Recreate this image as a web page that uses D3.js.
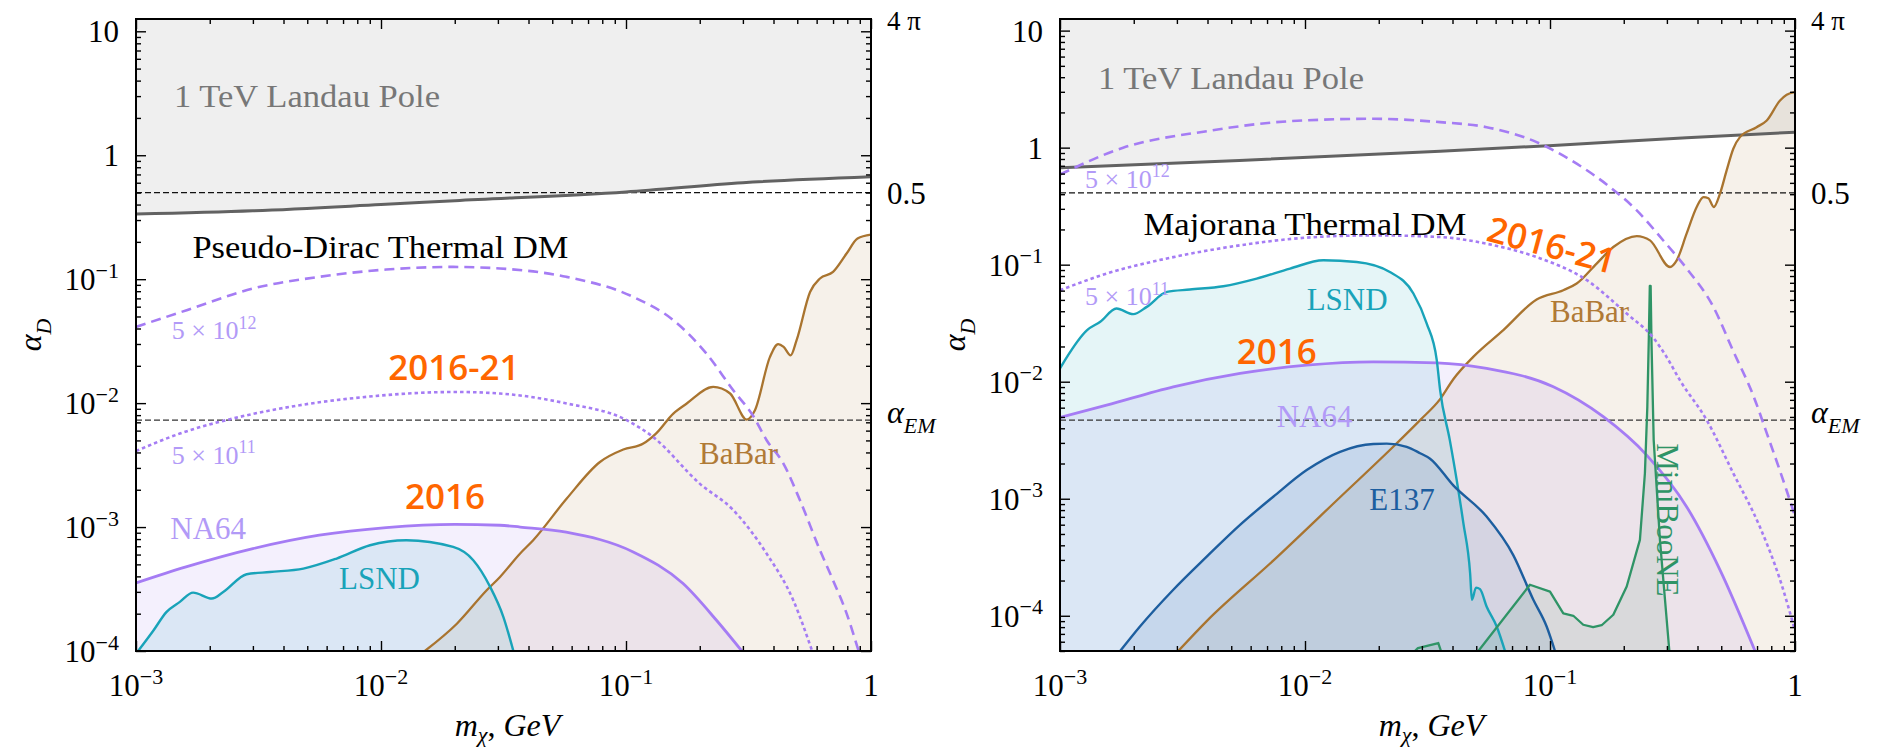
<!DOCTYPE html>
<html>
<head>
<meta charset="utf-8">
<script src="https://cdn.jsdelivr.net/npm/d3@7"></script>
<style>
  html, body { margin: 0; padding: 0; background: #fff; }
  svg { display: block; }
</style>
</head>
<body>
<svg id="fig" width="1880" height="753"></svg>
<script>
// ---------------- shared axis values ----------------
const massDomain = [1e-3, 1];
const alphaTop = 4 * Math.PI;
const xTickExps = [-3, -2, -1, 0];
const yTickExps = [-4, -3, -2, -1, 0, 1];

// ---------------- Pseudo-Dirac panel: [m_chi (GeV), alpha_D] ----------------
const pdLandau = [[1e-3, 0.335], [3e-3, 0.356], [1e-2, 0.40], [2e-2, 0.43], [0.1, 0.506], [0.3, 0.60], [1, 0.67]];
const pdNA64 = [[1e-3, 3.54e-4], [1.6e-3, 4.77e-4], [3e-3, 6.7e-4], [5.6e-3, 8.6e-4], [1.05e-2, 9.9e-4],
  [2e-2, 1.05e-3], [3.06e-2, 1.034e-3], [3.7e-2, 1.0e-3], [5.7e-2, 9.1e-4], [0.107, 6.3e-4],
  [0.171, 3.5e-4], [0.234, 1.77e-4], [0.297, 1e-4]];
const pdLSND = [[1.02e-3, 1e-4], [1.18e-3, 1.47e-4], [1.33e-3, 2.06e-4], [1.51e-3, 2.49e-4], [1.71e-3, 2.96e-4],
  [2.04e-3, 2.65e-4], [2.27e-3, 2.99e-4], [2.83e-3, 4.16e-4], [3.52e-3, 4.34e-4], [4.82e-3, 4.62e-4],
  [6.59e-3, 5.57e-4], [9.02e-3, 7.13e-4], [1.27e-2, 7.83e-4], [1.97e-2, 6.91e-4], [2.38e-2, 5.4e-4],
  [2.79e-2, 3.29e-4], [3.16e-2, 1.88e-4], [3.47e-2, 1e-4]];
const pdBaBar = [[0.0151, 1e-4], [0.0204, 1.66e-4], [0.027, 3.09e-4], [0.0306, 3.96e-4], [0.0369, 6.1e-4],
  [0.0418, 7.83e-4], [0.0573, 1.7e-3], [0.0783, 3.35e-3], [0.0975, 4.22e-3], [0.1177, 4.72e-3],
  [0.1325, 5.68e-3], [0.156, 8.24e-3], [0.177, 9.93e-3], [0.227, 1.352e-2], [0.266, 1.196e-2],
  [0.311, 7.37e-3], [0.336, 8.77e-3], [0.387, 2.36e-2], [0.418, 2.99e-2], [0.44, 2.84e-2],
  [0.47, 2.43e-2], [0.497, 3.22e-2], [0.564, 7.89e-2], [0.619, 0.1013], [0.7, 0.1145],
  [0.795, 0.161], [0.881, 0.213], [1, 0.229]];
const pdTarget5e12 = [[1e-3, 0.0412], [1.61e-3, 0.0562], [3e-3, 0.0841], [5.6e-3, 0.1045], [1.05e-2, 0.1196],
  [1.97e-2, 0.1256], [3.06e-2, 0.122], [5.7e-2, 0.1045], [0.107, 0.072], [0.156, 0.0467],
  [0.213, 0.0251], [0.274, 0.0127], [0.331, 7.84e-3], [0.375, 5.02e-3], [0.4385, 3.27e-3],
  [0.513, 1.645e-3], [0.619, 6.5e-4], [0.70, 3.72e-4], [0.795, 2.01e-4], [0.89, 1e-4]];
const pdTarget5e11 = [[1e-3, 4.11e-3], [1.51e-3, 5.68e-3], [2.65e-3, 7.74e-3], [4.66e-3, 9.62e-3],
  [8.19e-3, 1.11e-2], [2.02e-2, 1.23e-2], [3.06e-2, 1.195e-2], [5.73e-2, 9.93e-3], [0.1007, 7.28e-3],
  [0.129, 5.33e-3], [0.2, 2.24e-3], [0.274, 1.37e-3], [0.375, 6.1e-4], [0.482, 2.56e-4], [0.575, 1e-4]];
const pdRefLevels = [0.5, 1 / 137];

// ---------------- Majorana panel: [m_chi (GeV), alpha_D] ----------------
const mjLandau = [[1e-3, 0.674], [5.4e-3, 0.778], [3.56e-2, 0.933], [0.103, 1.044], [0.361, 1.214], [1, 1.356]];
const mjNA64 = [[1e-3, 4.96e-3], [1.55e-3, 6.31e-3], [2.9e-3, 9.05e-3], [5.43e-3, 1.178e-2], [1.016e-2, 1.386e-2],
  [1.9e-2, 1.48e-2], [3.45e-2, 1.45e-2], [5.51e-2, 1.3e-2], [0.1032, 9.05e-3], [0.165, 5.02e-3],
  [0.248, 2.36e-3], [0.361, 8.56e-4], [0.494, 2.47e-4], [0.687, 5e-5]];
const mjLSND = [[1e-3, 0.013], [1.048e-3, 0.0153], [1.29e-3, 0.0276], [1.46e-3, 0.0325], [1.7e-3, 0.0422],
  [1.99e-3, 0.0378], [2.26e-3, 0.0436], [2.73e-3, 0.0585], [3.39e-3, 0.0613], [4.64e-3, 0.0654],
  [6.35e-3, 0.076], [8.69e-3, 0.0926], [1.188e-2, 0.109], [1.626e-2, 0.1055], [2.22e-2, 0.0866],
  [2.77e-2, 0.0567], [3.14e-2, 0.0314], [3.45e-2, 0.0153], [3.56e-2, 8.48e-3], [3.9e-2, 3.17e-3],
  [4.16e-2, 1.45e-3], [4.43e-2, 6.18e-4], [4.72e-2, 2.31e-4], [4.8e-2, 1.37e-4], [4.99e-2, 1.74e-4],
  [5.18e-2, 1.69e-4], [5.51e-2, 1.2e-4], [6.06e-2, 8.1e-5], [6.55e-2, 5e-5]];
const mjE137 = [[1.76e-3, 5e-5], [2.12e-3, 8.1e-5], [2.9e-3, 1.67e-4], [3.97e-3, 3.2e-4], [5.43e-3, 5.98e-4],
  [7.42e-3, 1.04e-3], [1.016e-2, 1.76e-3], [1.39e-2, 2.52e-3], [1.9e-2, 2.94e-3], [2.156e-2, 2.96e-3],
  [2.6e-2, 2.78e-3], [2.95e-2, 2.45e-3], [3.24e-2, 2.2e-3], [4.03e-2, 1.3e-3], [5.51e-2, 7.04e-4],
  [7.08e-2, 3.3e-4], [8.55e-2, 1.37e-4], [9.69e-2, 8.1e-5], [0.1048, 5e-5]];
const mjBaBar = [[3.04e-3, 5e-5], [3.97e-3, 9e-5], [7.42e-3, 2.96e-4], [1.39e-2, 1.03e-3], [2.33e-2, 2.88e-3],
  [2.95e-2, 4.7e-3], [3.56e-2, 7.1e-3], [4.03e-2, 1.05e-2], [4.86e-2, 1.63e-2], [6.45e-2, 2.76e-2],
  [8.82e-2, 5.04e-2], [0.1133, 6.05e-2], [0.1285, 6.9e-2], [0.155, 0.1022], [0.1813, 0.1416],
  [0.226, 0.1757], [0.256, 0.1613], [0.309, 0.0955], [0.329, 0.109], [0.361, 0.184], [0.397, 0.311],
  [0.423, 0.378], [0.443, 0.37], [0.466, 0.311], [0.494, 0.404], [0.526, 0.639], [0.56, 0.979],
  [0.596, 1.23], [0.697, 1.496], [0.767, 1.707], [0.869, 2.53], [0.925, 2.83], [1, 2.98]];
const mjMiniBooNE = [[0.051, 5e-5], [0.0828, 1.84e-4], [0.1, 1.61e-4], [0.1133, 1.05e-4], [0.1245, 1e-4],
  [0.1367, 8.38e-5], [0.15, 8.0e-5], [0.1625, 8.3e-5], [0.1813, 1.02e-4], [0.2056, 1.78e-4],
  [0.2328, 4.45e-4], [0.244, 1.65e-3], [0.2496, 6.1e-3], [0.253, 0.0226], [0.2555, 0.0658],
  [0.2575, 0.0658], [0.2595, 0.0226], [0.265, 3.17e-3], [0.281, 4.45e-4], [0.307, 5e-5]];
const mjMiniBooNELow = [[0.0281, 5e-5], [0.0289, 5.3e-5], [0.035, 5.85e-5], [0.0359, 5e-5]];
const mjTarget5e12 = [[1e-3, 0.589], [1.81e-3, 0.998], [3.97e-3, 1.383], [8.69e-3, 1.683], [1.9e-2, 1.764],
  [3.56e-2, 1.651], [5.51e-2, 1.496], [8.82e-2, 1.114], [0.1285, 0.729], [0.1758, 0.46],
  [0.226, 0.291], [0.29, 0.161], [0.361, 0.093], [0.464, 0.0437], [0.56, 0.0182], [0.676, 7.6e-3],
  [0.77, 3.55e-3], [0.925, 1.17e-3], [1, 7.1e-4]];
const mjTarget5e11 = [[1e-3, 0.0605], [1.55e-3, 0.0839], [2.9e-3, 0.116], [5.43e-3, 0.1464], [1.016e-2, 0.1702],
  [1.9e-2, 0.178], [3.56e-2, 0.1723], [5.51e-2, 0.151], [8.82e-2, 0.116], [0.1413, 0.0737],
  [0.2056, 0.0382], [0.265, 0.0235], [0.299, 0.0163], [0.339, 0.0103], [0.436, 4.7e-3],
  [0.56, 1.65e-3], [0.718, 5.78e-4], [0.869, 2.03e-4], [1, 7.5e-5]];
const mjRefLevels = [0.41, 0.0047];

// ---------------- colours and fonts ----------------
const col = {
  landauLine: "#626262", landauFill: "rgba(0,0,0,0.063)", landauText: "#777777",
  na64: "#a57cf4", na64Fill: "rgba(150,110,240,0.10)", purpleText: "#b29af7",
  lsnd: "#19a3b9", lsndFill: "rgba(20,160,185,0.11)",
  babar: "#a9742f", babarFill: "rgba(168,115,46,0.10)", babarText: "#b07a36",
  e137: "#1d5e9f", e137Fill: "rgba(30,90,160,0.11)",
  mini: "#2f9466", miniFill: "rgba(46,139,87,0.10)",
  orange: "#ff6600"
};
const serifFont = '"Liberation Serif", "Tinos", "Times New Roman", "Noto Serif", "DejaVu Serif", serif';
const sansFont = '"Open Sans", "Noto Sans", sans-serif';

const svg = d3.select("#fig");
const defs = svg.append("defs");

// serif text element helper
function txt(parent, x, y, size) {
  return parent.append("text").attr("x", x).attr("y", y)
    .attr("font-size", size).style("font-family", serifFont).attr("fill", "#000");
}
// text with sub/superscripts built from tspans
function addMath(t, parts, size, subShift = 0.3) {
  let shift = 0;
  parts.forEach(p => {
    const target = p.sup ? -0.4 * size : p.sub ? subShift * size : 0;
    const ts = t.append("tspan").text(p.t).attr("dy", target - shift);
    shift = target;
    if (p.sup || p.sub) ts.attr("font-size", Math.round(size * 0.7));
    if (p.it) ts.attr("font-style", "italic");
  });
  return t;
}
function powParts(e) {
  if (e === 0) return [{ t: "1" }];
  if (e === 1) return [{ t: "10" }];
  return [{ t: "10" }, { t: "\u2212" + (-e), sup: true }];
}

function drawPanel(cfg) {
  const x = d3.scaleLog().domain(massDomain).range([cfg.left, cfg.right]);
  const y = d3.scaleLog().domain([cfg.yMin, alphaTop]).range([cfg.bottom, cfg.top]);
  const yBase = y.range()[0], yTop = y.range()[1];

  const clipId = "clip-" + cfg.key;
  defs.append("clipPath").attr("id", clipId).append("rect")
    .attr("x", cfg.left).attr("y", cfg.top)
    .attr("width", cfg.right - cfg.left).attr("height", cfg.bottom - cfg.top);

  const g = svg.append("g");
  const plot = g.append("g").attr("clip-path", `url(#${clipId})`);

  const under = curve => d3.area().x(d => x(d[0])).y0(yBase).y1(d => y(d[1])).curve(curve);
  const above = d3.area().x(d => x(d[0])).y0(yTop).y1(d => y(d[1])).curve(d3.curveMonotoneX);
  const line = curve => d3.line().x(d => x(d[0])).y(d => y(d[1])).curve(curve);

  // excluded / forbidden regions
  plot.append("path").datum(cfg.landau).attr("d", above).attr("fill", col.landauFill);
  cfg.regions.forEach(r => {
    plot.append("path").datum(r.data).attr("d", under(r.curve || d3.curveMonotoneX)).attr("fill", r.fill);
  });

  // reference couplings
  cfg.refLevels.forEach((v, i) => {
    plot.append("line")
      .attr("x1", x(massDomain[0])).attr("x2", x(massDomain[1]))
      .attr("y1", y(v)).attr("y2", y(v))
      .attr("stroke", i === 0 ? "#111" : "#333").attr("stroke-width", 1.3)
      .attr("stroke-dasharray", "6,3");
  });

  // boundaries
  plot.append("path").datum(cfg.landau).attr("d", line(d3.curveMonotoneX))
    .attr("fill", "none").attr("stroke", col.landauLine).attr("stroke-width", 3);
  cfg.regions.forEach(r => {
    plot.append("path").datum(r.data).attr("d", line(r.curve || d3.curveMonotoneX))
      .attr("fill", "none").attr("stroke", r.stroke).attr("stroke-width", r.width)
      .attr("stroke-linejoin", "round");
  });
  cfg.targets.forEach(tg => {
    plot.append("path").datum(tg.data).attr("d", line(d3.curveMonotoneX))
      .attr("fill", "none").attr("stroke", col.na64).attr("stroke-width", 2.6)
      .attr("stroke-dasharray", tg.dash);
  });

  // in-plot labels
  cfg.labels.forEach(L => {
    const px = x(L.at[0]), py = y(L.at[1]);
    const t = txt(g, px, py, L.size).attr("fill", L.color);
    if (L.sans) t.style("font-family", sansFont).attr("font-weight", 600);
    if (L.rotate) t.attr("transform", `rotate(${L.rotate},${px},${py})`);
    if (L.len) t.attr("textLength", L.len).attr("lengthAdjust", "spacingAndGlyphs");
    if (L.parts) addMath(t, L.parts, L.size); else t.text(L.text);
  });

  // ticks on all four sides, pointing inward
  const isMajor = v => Math.abs(Math.log10(v) - Math.round(Math.log10(v))) < 1e-6;
  const xt = x.ticks(10), yt = y.ticks(10);
  const sides = [
    [d3.axisBottom(x), xt, `translate(0,${cfg.bottom})`],
    [d3.axisTop(x), xt, `translate(0,${cfg.top})`],
    [d3.axisLeft(y), yt, `translate(${cfg.left},0)`],
    [d3.axisRight(y), yt, `translate(${cfg.right},0)`]
  ];
  sides.forEach(([ax, ticks, tr]) => {
    [[ticks.filter(isMajor), -10], [ticks.filter(v => !isMajor(v)), -5]].forEach(([vals, size]) => {
      g.append("g").attr("transform", tr)
        .call(ax.tickValues(vals).tickSize(size).tickFormat(() => ""))
        .call(s => s.select(".domain").remove())
        .call(s => s.selectAll("line").attr("stroke", "#000").attr("stroke-width", 1.4));
    });
  });

  g.append("rect").attr("x", cfg.left).attr("y", cfg.top)
    .attr("width", cfg.right - cfg.left).attr("height", cfg.bottom - cfg.top)
    .attr("fill", "none").attr("stroke", "#000").attr("stroke-width", 2);

  // tick labels
  xTickExps.forEach(e => {
    addMath(txt(g, x(Math.pow(10, e)), cfg.bottom + 45, 31).attr("text-anchor", "middle"), powParts(e), 31);
  });
  yTickExps.forEach(e => {
    const v = Math.pow(10, e);
    if (v < cfg.yMin) return;
    addMath(txt(g, cfg.left - 17, y(v) + 11, 31).attr("text-anchor", "end"), powParts(e), 31);
  });

  // right-hand reference values
  const rx = cfg.right + 16;
  txt(g, rx, y(alphaTop) + 11, 27).text("4 \u03c0");
  txt(g, rx, y(cfg.refLevels[0]) + 11, 31).text("0.5");
  addMath(txt(g, rx, y(cfg.refLevels[1]) + 3, 32),
    [{ t: "\u03b1", it: true }, { t: "EM", sub: true, it: true }], 32);

  // axis titles
  const cx = (cfg.left + cfg.right) / 2 + 4;
  addMath(txt(g, cx, cfg.bottom + 85, 32).attr("text-anchor", "middle"),
    [{ t: "m", it: true }, { t: "\u03c7", sub: true, it: true }, { t: ", " }, { t: "GeV", it: true }], 32, 0.2);
  const ty = (cfg.top + cfg.bottom) / 2, tx = cfg.left - 95;
  addMath(txt(g, tx, ty, 32).attr("text-anchor", "middle").attr("transform", `rotate(-90,${tx},${ty})`),
    [{ t: "\u03b1", it: true }, { t: "D", sub: true, it: true }], 32);
}

const mathTarget = exp => [{ t: "5 \u00d7 10" }, { t: exp, sup: true }];

drawPanel({
  key: "pd", left: 136, right: 871, top: 19, bottom: 651, yMin: 1e-4,
  landau: pdLandau, refLevels: pdRefLevels,
  regions: [
    { data: pdBaBar, fill: col.babarFill, stroke: col.babar, width: 2.3 },
    { data: pdNA64, fill: col.na64Fill, stroke: col.na64, width: 2.8 },
    { data: pdLSND, fill: col.lsndFill, stroke: col.lsnd, width: 2.4 }
  ],
  targets: [{ data: pdTarget5e12, dash: "10,6" }, { data: pdTarget5e11, dash: "3.5,3" }],
  labels: [
    { text: "1 TeV Landau Pole", at: [1.43e-3, 2.46], color: col.landauText, size: 31, len: 266 },
    { text: "Pseudo-Dirac Thermal DM", at: [1.70e-3, 0.147], color: "#000", size: 31, len: 376 },
    { parts: mathTarget("12"), at: [1.40e-3, 0.0328], color: col.purpleText, size: 26 },
    { text: "2016-21", at: [0.01071, 0.0153], color: col.orange, size: 35, sans: true },
    { parts: mathTarget("11"), at: [1.40e-3, 3.25e-3], color: col.purpleText, size: 26 },
    { text: "2016", at: [0.01253, 1.41e-3], color: col.orange, size: 35, sans: true },
    { text: "NA64", at: [1.38e-3, 8.08e-4], color: col.purpleText, size: 31 },
    { text: "LSND", at: [6.74e-3, 3.19e-4], color: col.lsnd, size: 31 },
    { text: "BaBar", at: [0.1986, 3.21e-3], color: col.babarText, size: 31 }
  ]
});

drawPanel({
  key: "mj", left: 1060, right: 1795, top: 19, bottom: 651, yMin: 5e-5,
  landau: mjLandau, refLevels: mjRefLevels,
  regions: [
    { data: mjBaBar, fill: col.babarFill, stroke: col.babar, width: 2.3 },
    { data: mjNA64, fill: col.na64Fill, stroke: col.na64, width: 2.8 },
    { data: mjLSND, fill: col.lsndFill, stroke: col.lsnd, width: 2.4 },
    { data: mjE137, fill: col.e137Fill, stroke: col.e137, width: 2.4 },
    { data: mjMiniBooNE, fill: col.miniFill, stroke: col.mini, width: 2.3, curve: d3.curveLinear },
    { data: mjMiniBooNELow, fill: col.miniFill, stroke: col.mini, width: 2.3, curve: d3.curveLinear }
  ],
  targets: [{ data: mjTarget5e12, dash: "10,6" }, { data: mjTarget5e11, dash: "3.5,3" }],
  labels: [
    { text: "1 TeV Landau Pole", at: [1.43e-3, 3.18], color: col.landauText, size: 31, len: 266 },
    { parts: mathTarget("12"), at: [1.265e-3, 0.455], color: col.purpleText, size: 26 },
    { text: "Majorana Thermal DM", at: [2.19e-3, 0.178], color: "#000", size: 31, len: 323 },
    { text: "2016-21", at: [0.0543, 0.1616], color: col.orange, size: 35, sans: true, rotate: 15 },
    { parts: mathTarget("11"), at: [1.265e-3, 0.045], color: col.purpleText, size: 26 },
    { text: "LSND", at: [0.01016, 0.0408], color: col.lsnd, size: 31 },
    { text: "2016", at: [5.26e-3, 0.01413], color: col.orange, size: 35, sans: true },
    { text: "NA64", at: [7.66e-3, 4.07e-3], color: col.purpleText, size: 31 },
    { text: "E137", at: [0.0183, 8.02e-4], color: col.e137, size: 31 },
    { text: "BaBar", at: [0.1, 0.0324], color: col.babarText, size: 31 },
    { text: "MiniBooNE", at: [0.2735, 2.98e-3], color: col.mini, size: 31, rotate: 90 }
  ]
});
</script>
</body>
</html>
